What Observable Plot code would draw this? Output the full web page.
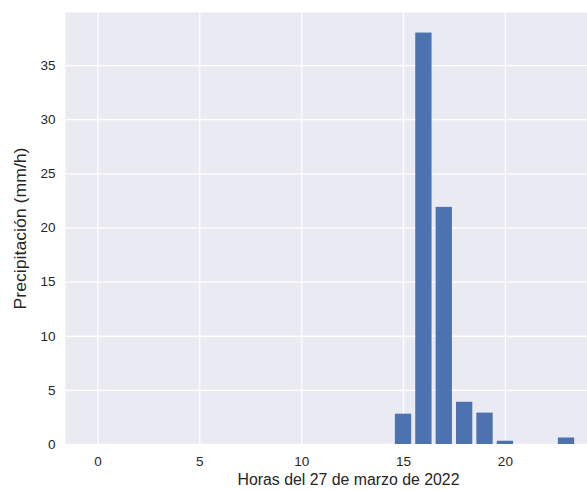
<!DOCTYPE html>
<html>
<head>
<meta charset="utf-8">
<script src="https://cdn.jsdelivr.net/npm/d3@7"></script>
<script src="https://cdn.jsdelivr.net/npm/@observablehq/plot@0.6"></script>
<style>
  html, body { margin: 0; padding: 0; background: #ffffff; overflow: hidden; }
  #chart svg { display: block; }
</style>
</head>
<body>
<div id="chart"></div>
<script>
const hours = [0,1,2,3,4,5,6,7,8,9,10,11,12,13,14,15,16,17,18,19,20,21,22,23];
const precip = [0,0,0,0,0,0,0,0,0,0,0,0,0,0,0,2.8,38.0,21.9,3.9,2.9,0.3,0,0,0.6];
const xTicks = [0,5,10,15,20];
const yTicks = [0,5,10,15,20,25,30,35];
const xLabel = "Horas del 27 de marzo de 2022";
const yLabel = "Precipitación (mm/h)";

const data = hours.map((h, i) => ({hour: h, value: precip[i]}));

const chart = Plot.plot({
  width: 587,
  height: 491,
  marginLeft: 65,
  marginRight: 0,
  marginTop: 12,
  marginBottom: 47,
  style: {fontFamily: "Liberation Sans, Arial, sans-serif", fontSize: "13.5px", color: "#262626", background: "#ffffff"},
  x: {domain: [-1.59, 24.03], ticks: xTicks, tickSize: 0, tickPadding: 12, label: null},
  y: {domain: [0, 39.9], ticks: yTicks, tickSize: 0, tickPadding: 10, label: null},
  marks: [
    Plot.frame({fill: "#EAEAF2", stroke: null}),
    Plot.gridX(xTicks, {stroke: "#ffffff", strokeOpacity: 1, strokeWidth: 1.3}),
    Plot.gridY(yTicks, {stroke: "#ffffff", strokeOpacity: 1, strokeWidth: 1.3}),
    Plot.rectY(data, {x1: d => d.hour - 0.4, x2: d => d.hour + 0.4, y1: 0, y2: "value", fill: "#4C72B0"}),
    Plot.axisX(xTicks, {tickSize: 0, tickPadding: 12, fontSize: 13.5, fill: "#262626", label: null}),
    Plot.axisY(yTicks, {tickSize: 0, tickPadding: 10, fontSize: 13.5, fill: "#262626", label: null}),
    Plot.text([xLabel], {frameAnchor: "bottom", textAnchor: "middle", dx: 22, dy: 40, fontSize: 16, fill: "#262626", className: "xlab"}),
    Plot.text([yLabel], {frameAnchor: "left", textAnchor: "middle", dx: -45, rotate: -90, fontSize: 16, fill: "#262626", className: "ylab"})
  ]
});
d3.select(chart).selectAll(".ylab text").attr("textLength", 162).attr("lengthAdjust", "spacingAndGlyphs");
d3.select(chart).selectAll(".xlab text").attr("textLength", 222).attr("lengthAdjust", "spacingAndGlyphs");
document.getElementById("chart").append(chart);
</script>
</body>
</html>
